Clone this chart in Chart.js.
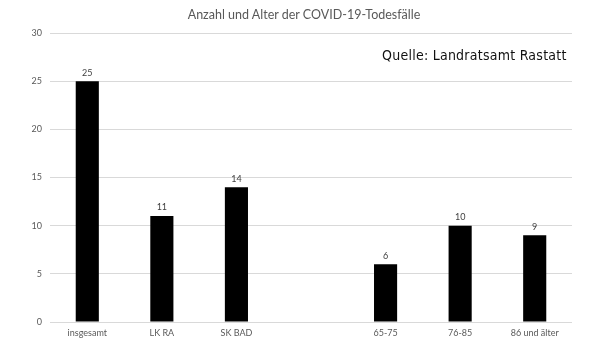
<!DOCTYPE html>
<html>
<head>
<meta charset="utf-8">
<script src="https://cdn.jsdelivr.net/npm/chart.js@4.4.0/dist/chart.umd.min.js"></script>
<style>
  html, body { margin: 0; padding: 0; background: #fff; }
  #wrap { position: relative; width: 608px; height: 342px; }
  #title { position: absolute; left: 304px; top: 7px; transform: translateX(-50%); white-space: nowrap;
           font-family: Lato, "Open Sans", sans-serif; font-size: 12.5px; color: #595959; }
  #source { position: absolute; left: 382px; top: 47px; white-space: nowrap;
           font-family: "DejaVu Sans Condensed", "DejaVu Sans", sans-serif; font-size: 14px; color: #111; letter-spacing: 0.25px; }
</style>
</head>
<body>
<div id="wrap">
  <canvas id="c" width="608" height="342"></canvas>
  <div id="title">Anzahl und Alter der COVID-19-Todesfälle</div>
  <div id="source">Quelle: Landratsamt Rastatt</div>
</div>
<script>
const categories = ["insgesamt", "LK RA", "SK BAD", "", "65-75", "76-85", "86 und älter"];
const deaths = [25, 11, 14, null, 6, 10, 9];
const yTicks = [0, 5, 10, 15, 20, 25, 30];

const valueLabels = {
  id: 'valueLabels',
  afterDatasetsDraw(chart) {
    const ctx = chart.ctx;
    const meta = chart.getDatasetMeta(0);
    ctx.save();
    ctx.font = '9px Lato, "Open Sans", sans-serif';
    ctx.fillStyle = '#404040';
    ctx.textAlign = 'center';
    ctx.textBaseline = 'bottom';
    meta.data.forEach((bar, i) => {
      const v = chart.data.datasets[0].data[i];
      if (v === null || v === undefined) return;
      ctx.fillText(String(v), bar.x, bar.y - 4);
    });
    ctx.restore();
  }
};

new Chart(document.getElementById('c'), {
  type: 'bar',
  data: {
    labels: categories,
    datasets: [{
      data: deaths,
      backgroundColor: '#000000',
      borderWidth: 0,
      barPercentage: 0.31,
      categoryPercentage: 1.0
    }]
  },
  options: {
    responsive: false,
    animation: false,
    layout: { padding: { top: 33, right: 36, bottom: 3, left: 0 } },
    plugins: { legend: { display: false }, tooltip: { enabled: false }, title: { display: false } },
    scales: {
      y: {
        min: 0, max: 30,
        afterBuildTicks(axis) { axis.ticks = yTicks.map(v => ({ value: v })); },
        afterFit(axis) { axis.width = 50; },
        grid: { color: '#d9d9d9', drawTicks: false, lineWidth: 1 },
        border: { display: false },
        ticks: { padding: 8, color: '#595959', font: { family: 'Lato, "Open Sans", sans-serif', size: 9 } }
      },
      x: {
        afterFit(axis) { axis.height = 17; },
        grid: { display: false, drawTicks: false },
        border: { display: false },
        ticks: { padding: 6, color: '#595959', autoSkip: false, maxRotation: 0, font: { family: 'Lato, "Open Sans", sans-serif', size: 9 } }
      }
    }
  },
  plugins: [valueLabels]
});
</script>
</body>
</html>
